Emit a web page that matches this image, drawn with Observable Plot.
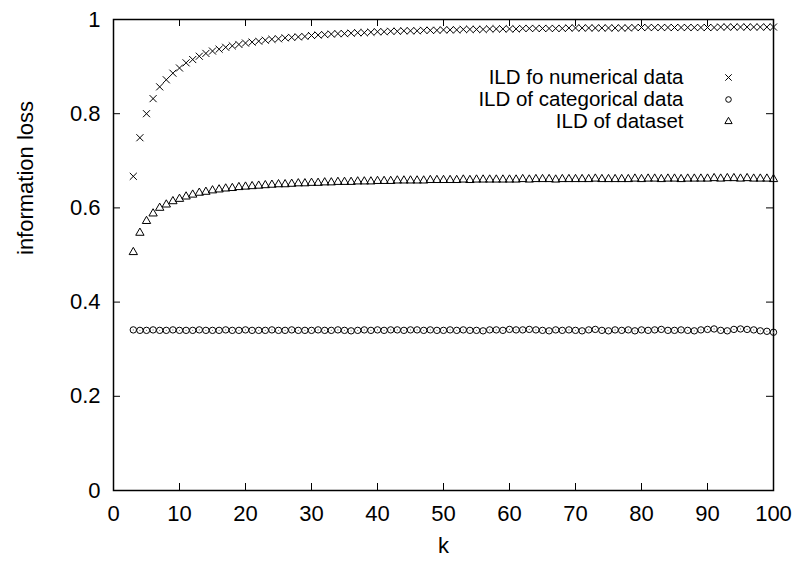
<!DOCTYPE html>
<html>
<head>
<meta charset="utf-8">
<script src="https://cdn.jsdelivr.net/npm/d3@7"></script>
<script src="https://cdn.jsdelivr.net/npm/@observablehq/plot@0.6"></script>
<style>
  html, body { margin: 0; padding: 0; background: white; }
</style>
</head>
<body>
<div id="chart"></div>
<script>
const kValues = [
  3,4,5,6,7,8,9,10,11,12,
  13,14,15,16,17,18,19,20,21,22,
  23,24,25,26,27,28,29,30,31,32,
  33,34,35,36,37,38,39,40,41,42,
  43,44,45,46,47,48,49,50,51,52,
  53,54,55,56,57,58,59,60,61,62,
  63,64,65,66,67,68,69,70,71,72,
  73,74,75,76,77,78,79,80,81,82,
  83,84,85,86,87,88,89,90,91,92,
  93,94,95,96,97,98,99,100
];
const numericalLoss = [
  .667,.749,.800,.832,.857,.872,.886,.897,.908,.915,
  .922,.928,.933,.937,.941,.944,.947,.950,.952,.954,
  .956,.958,.959,.961,.962,.963,.964,.966,.967,.968,
  .969,.970,.970,.971,.972,.972,.973,.974,.974,.975,
  .975,.976,.976,.976,.977,.977,.977,.978,.978,.978,
  .979,.979,.979,.979,.980,.980,.980,.980,.980,.981,
  .981,.981,.981,.981,.981,.981,.982,.982,.982,.982,
  .982,.982,.982,.982,.982,.982,.983,.983,.983,.983,
  .983,.983,.983,.983,.983,.983,.983,.983,.983,.984,
  .984,.984,.984,.984,.984,.984,.984,.984
];
const categoricalLoss = [
  .341,.340,.340,.341,.340,.340,.341,.340,.340,.340,
  .341,.340,.340,.340,.341,.340,.340,.341,.340,.340,
  .340,.341,.340,.340,.341,.340,.340,.340,.341,.340,
  .340,.341,.340,.339,.340,.341,.340,.341,.340,.341,
  .341,.340,.341,.341,.340,.341,.340,.340,.341,.340,
  .341,.340,.340,.339,.341,.341,.340,.342,.341,.341,
  .342,.341,.340,.339,.341,.340,.341,.340,.339,.341,
  .342,.340,.339,.341,.340,.341,.339,.341,.340,.341,
  .342,.340,.340,.341,.340,.339,.341,.342,.343,.340,
  .339,.342,.343,.342,.341,.339,.338,.336
];
const datasetLoss = [
  .506,.547,.572,.588,.600,.607,.614,.619,.624,.628,
  .632,.634,.637,.639,.641,.642,.644,.645,.646,.647,
  .648,.649,.650,.650,.651,.652,.652,.653,.653,.654,
  .654,.655,.655,.655,.656,.656,.656,.657,.657,.657,
  .658,.658,.658,.658,.658,.659,.659,.659,.659,.659,
  .660,.659,.660,.660,.660,.660,.660,.660,.660,.661,
  .660,.661,.661,.661,.660,.661,.661,.661,.661,.661,
  .662,.661,.661,.661,.661,.661,.662,.661,.662,.662,
  .661,.662,.662,.661,.662,.662,.662,.662,.663,.662,
  .663,.663,.662,.663,.662,.662,.662,.661
];
const seriesNames = ["ILD fo numerical data", "ILD of categorical data", "ILD of dataset"];
const seriesSymbols = ["times", "circle", "triangle"];
const xTicks = [0,10,20,30,40,50,60,70,80,90,100];
const yTicks = [0,0.2,0.4,0.6,0.8,1];
const yTickLabels = ["0","0.2","0.4","0.6","0.8","1"];
const xInnerTicks = [10,20,30,40,50,60,70,80,90];
const yInnerTicks = [0.2,0.4,0.6,0.8];
const xLabel = "k";
const yLabel = "information loss";

const numRows = kValues.map((k, i) => ({k, v: numericalLoss[i]}));
const catRows = kValues.map((k, i) => ({k, v: categoricalLoss[i]}));
const setRows = kValues.map((k, i) => ({k, v: datasetLoss[i]}));

const W = 798, H = 561, mL = 113, mR = 25, mT = 19, mB = 71;
const innerW = W - mL - mR, innerH = H - mT - mB;
const tickLen = 7;

const symbolR = {times: 3.3, circle: 3.2, triangle: 3.1};
const legendR = {times: 3.0, circle: 2.8, triangle: 2.7};

const legendMarks = seriesNames.flatMap((name, i) => [
  Plot.text([name], {frameAnchor: "top-right", dx: -90, dy: 58 + 22 * i, textAnchor: "end", lineAnchor: "middle", fill: "black", fontSize: 20.5}),
  Plot.dot([name], {frameAnchor: "top-right", dx: -45, dy: 58 + 22 * i, symbol: seriesSymbols[i], r: legendR[seriesSymbols[i]], stroke: "black", strokeWidth: 1, fill: "none"})
]);

const chart = Plot.plot({
  width: W, height: H,
  marginLeft: mL, marginRight: mR, marginTop: mT, marginBottom: mB,
  style: {fontFamily: "'Liberation Sans', Arial, Helvetica, sans-serif", fontSize: "22px", color: "black", background: "white"},
  x: {domain: [0, 100]},
  y: {domain: [0, 1]},
  marks: [
    Plot.axisX(xTicks, {tickSize: 0, tickPadding: 15, label: null, fill: "black"}),
    Plot.axisY(yTicks, {tickSize: 0, tickPadding: 13, label: null, tickFormat: (d, i) => yTickLabels[i], fill: "black"}),
    Plot.tickX(xInnerTicks, {x: d => d, insetTop: innerH - tickLen, stroke: "black", strokeWidth: 1}),
    Plot.tickX(xInnerTicks, {x: d => d, insetBottom: innerH - tickLen, stroke: "black", strokeWidth: 1}),
    Plot.tickY(yInnerTicks, {y: d => d, insetRight: innerW - tickLen, stroke: "black", strokeWidth: 1}),
    Plot.tickY(yInnerTicks, {y: d => d, insetLeft: innerW - tickLen, stroke: "black", strokeWidth: 1}),
    Plot.frame({stroke: "black", strokeWidth: 1.5}),
    Plot.text([xLabel], {frameAnchor: "bottom", dy: 55, lineAnchor: "middle", fill: "black"}),
    Plot.text([yLabel], {frameAnchor: "left", dx: -88, rotate: -90, lineAnchor: "middle", fill: "black"}),
    Plot.dot(numRows, {x: "k", y: "v", symbol: "times", r: symbolR.times, stroke: "black", strokeWidth: 1}),
    Plot.dot(catRows, {x: "k", y: "v", symbol: "circle", r: symbolR.circle, stroke: "black", strokeWidth: 1, fill: "none"}),
    Plot.dot(catRows, {x: "k", y: "v", r: 0.6, fill: "#666", stroke: "none"}),
    Plot.dot(setRows, {x: "k", y: "v", symbol: "triangle", r: symbolR.triangle, stroke: "black", strokeWidth: 1, fill: "none"}),
    ...legendMarks
  ]
});
document.getElementById("chart").appendChild(chart);
</script>
</body>
</html>
